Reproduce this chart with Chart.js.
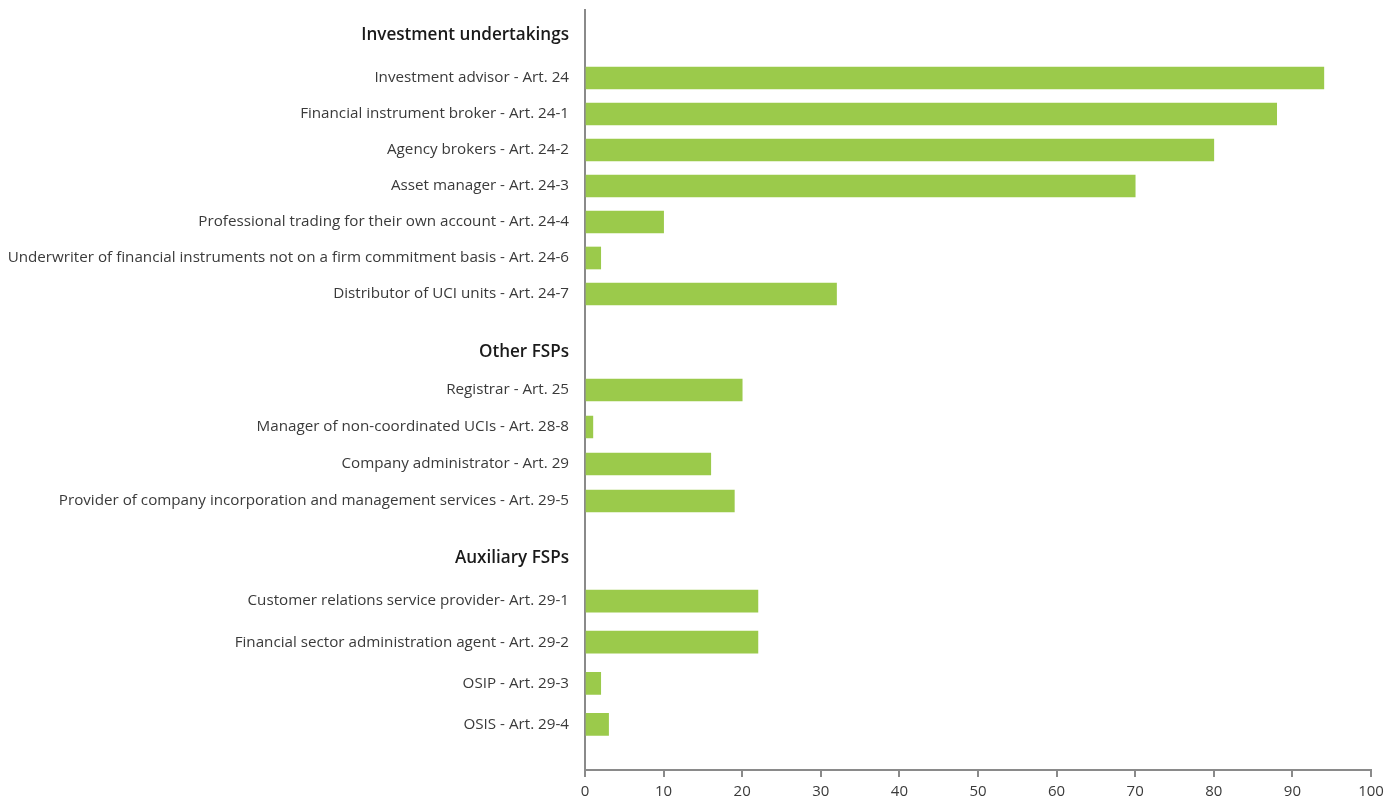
<!DOCTYPE html>
<html>
<head>
<meta charset="utf-8">
<title>Authorised financial sector professionals by status</title>
<script src="https://cdn.jsdelivr.net/npm/chart.js@4.4.1/dist/chart.umd.min.js"></script>
<style>
  html, body { margin: 0; padding: 0; background: #ffffff; }
  #wrap { width: 1387px; height: 796px; position: relative; }
</style>
</head>
<body>
<div id="wrap"><canvas id="chart"></canvas></div>
<script>
// ---- data ----
const groupHeaders = ['Investment undertakings', 'Other FSPs', 'Auxiliary FSPs'];

const investmentLabels = [
  'Investment advisor - Art. 24',
  'Financial instrument broker - Art. 24-1',
  'Agency brokers - Art. 24-2',
  'Asset manager - Art. 24-3',
  'Professional trading for their own account - Art. 24-4',
  'Underwriter of financial instruments not on a firm commitment basis - Art. 24-6',
  'Distributor of UCI units - Art. 24-7'
];
const investmentValues = [94, 88, 80, 70, 10, 2, 32];

const otherLabels = [
  'Registrar - Art. 25',
  'Manager of non-coordinated UCIs - Art. 28-8',
  'Company administrator - Art. 29',
  'Provider of company incorporation and management services - Art. 29-5'
];
const otherValues = [20, 1, 16, 19];

const auxiliaryLabels = [
  'Customer relations service provider- Art. 29-1',
  'Financial sector administration agent - Art. 29-2',
  'OSIP - Art. 29-3',
  'OSIS - Art. 29-4'
];
const auxiliaryValues = [22, 22, 2, 3];

const xMin = 0;
const xMax = 100;
const xStep = 10;

// ---- styling ----
const FONT = 'Open Sans';
const BAR = '#9bca4b';
const AXIS = '#8a8a8a';
const TEXT = '#3a3a3a';
const HEAD = '#1a1a1a';

// Vertical bands of the plot, top to bottom; each band is its own stacked
// category axis so that headings and groups get their own spacing.
const bands = [
  { id: 'hInvest', labels: [groupHeaders[0]], header: true, size: 50 },
  { id: 'gInvest', labels: investmentLabels, values: investmentValues, size: 252 },
  { id: 'hOther', labels: [groupHeaders[1]], header: true, size: 59.5, shift: 10 },
  { id: 'gOther', labels: otherLabels, values: otherValues, size: 148 },
  { id: 'hAux', labels: [groupHeaders[2]], header: true, size: 61, shift: 8 },
  { id: 'gAux', labels: auxiliaryLabels, values: auxiliaryValues, size: 164.5 },
  { id: 'tail', labels: [''], size: 25 }
];

const scales = {
  x: {
    type: 'linear',
    position: 'bottom',
    min: xMin,
    max: xMax,
    ticks: {
      stepSize: xStep,
      color: TEXT,
      padding: 6,
      font: { family: FONT, size: 15 }
    },
    grid: { drawOnChartArea: false, drawTicks: true, tickLength: 7, color: AXIS, lineWidth: 2 },
    border: { color: AXIS, width: 2 },
    afterFit: (s) => {
      s.height = 26;
      // the end labels may overhang the plot edges
      s.paddingLeft = 0;
      s.paddingRight = 0;
    }
  }
};

bands.forEach((b, i) => {
  scales[b.id] = {
    type: 'category',
    position: 'left',
    stack: 'rows',
    stackWeight: b.size,
    weight: bands.length - i,
    offset: true,
    labels: b.labels,
    grid: { display: true, drawOnChartArea: false, drawTicks: false },
    border: { color: AXIS, width: 2 },
    ticks: {
      autoSkip: false,
      padding: 16,
      labelOffset: b.shift || 0,
      color: b.header ? HEAD : TEXT,
      font: b.header
        ? { family: FONT, size: 17.1, weight: '600' }
        : { family: FONT, size: 15.2 }
    },
    afterFit: (s) => {
      s.width = 585;
      // labels sit inside their band, so no extra room above or below
      s.paddingTop = 0;
      s.paddingBottom = 0;
    }
  };
});

const datasets = bands.filter(b => b.values).map(b => ({
  label: b.id,
  data: b.values,
  yAxisID: b.id,
  xAxisID: 'x',
  backgroundColor: BAR,
  borderWidth: 0,
  barThickness: 22,
  grouped: false
}));

Chart.defaults.font.family = FONT;

new Chart(document.getElementById('chart'), {
  type: 'bar',
  data: { datasets },
  options: {
    indexAxis: 'y',
    responsive: true,
    maintainAspectRatio: false,
    animation: false,
    layout: { padding: { top: 10, right: 16, bottom: 0, left: 0 } },
    plugins: {
      legend: { display: false },
      tooltip: { enabled: false }
    },
    scales
  }
});
</script>
</body>
</html>
